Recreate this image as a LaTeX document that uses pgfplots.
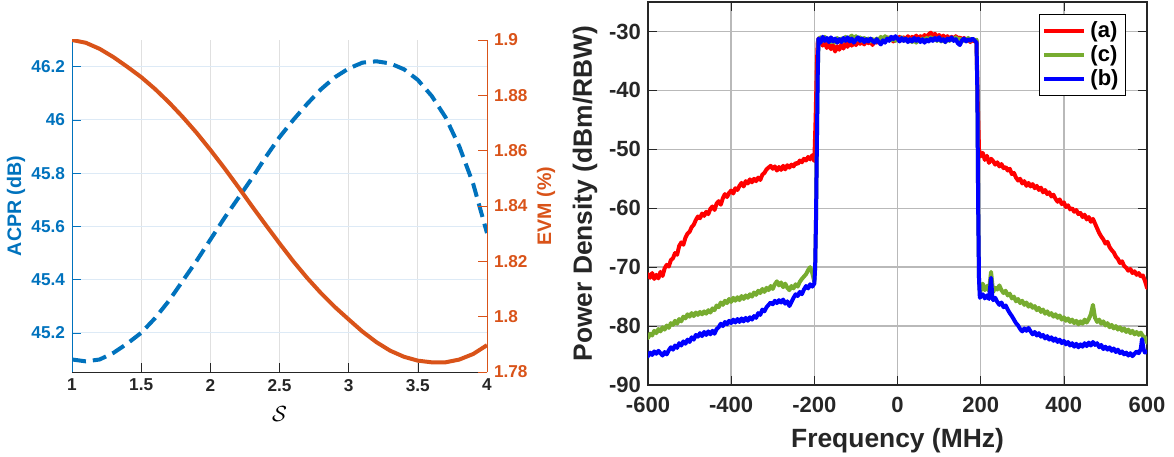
\documentclass[border=0pt]{standalone}
\usepackage{fontspec}
\setmainfont{Liberation Sans}
\usepackage{pgfplots}
\pgfplotsset{compat=1.18}
\definecolor{mblue}{HTML}{0072BD}
\definecolor{morange}{HTML}{D95319}
\definecolor{mgreen}{HTML}{77AC30}
\definecolor{axgray}{HTML}{262626}
\definecolor{gridgray}{HTML}{E0E0E0}
\definecolor{gridblue}{HTML}{DDEAF6}
\begin{document}
\begin{tikzpicture}
\useasboundingbox (0,0) rectangle (587pt,228pt);
%---------------- left: ACPR ----------------
\begin{axis}[
  at={(36pt,42pt)}, anchor=south west,
  scale only axis, width=207.5pt, height=166pt,
  xmin=1, xmax=4, ymin=45.053, ymax=46.3,
  axis y line*=left, axis x line*=bottom,
  xtick={1,1.5,2,2.5,3,3.5,4},
  ytick={45.2,45.4,45.6,45.8,46,46.2},
  tick align=inside,
  /pgf/number format/assume math mode=true,
  tick label style={font=\fontsize{8.6}{10}\selectfont\bfseries},
  xticklabel style={color=axgray},
  yticklabel style={color=mblue},
  x axis line style={axgray, line width=0.5pt},
  y axis line style={mblue, line width=0.5pt},
  xtick style={axgray}, ytick style={mblue},
  xmajorgrids, ymajorgrids,
  major x grid style={gridgray, line width=0.5pt},
  major y grid style={gridblue, line width=0.5pt},
  xlabel={$\mathcal{S}$},
  xlabel style={at={(axis description cs:0.5,-0.128)}, anchor=center, font=\fontsize{11}{12}\selectfont},
  ylabel={ACPR (dB)},
  ylabel style={at={(axis description cs:-0.135,0.5)}, anchor=center, color=mblue, font=\fontsize{9.8}{11}\selectfont\bfseries},
]
\addplot[mblue, line width=2pt, line join=round, dash pattern=on 7pt off 3.5pt] coordinates {
(1.0,45.100) (1.1,45.093) (1.2,45.100) (1.3,45.125) (1.4,45.160) (1.5,45.200)
(1.6,45.255) (1.7,45.320) (1.8,45.395) (1.9,45.470) (2.0,45.550) (2.1,45.630)
(2.2,45.705) (2.3,45.780) (2.4,45.860) (2.5,45.935) (2.6,46.000) (2.7,46.060)
(2.8,46.115) (2.9,46.160) (3.0,46.193) (3.1,46.215) (3.2,46.220) (3.3,46.212)
(3.4,46.190) (3.5,46.150) (3.6,46.090) (3.7,46.010) (3.8,45.900) (3.9,45.760)
(4.0,45.575)
};
\end{axis}
%---------------- left: EVM ----------------
\begin{axis}[
  at={(36pt,42pt)}, anchor=south west,
  scale only axis, width=207.5pt, height=166pt,
  xmin=1, xmax=4, ymin=1.78, ymax=1.9,
  axis y line*=right, axis x line=none,
  ytick={1.78,1.8,1.82,1.84,1.86,1.88,1.9},
  tick align=inside,
  /pgf/number format/assume math mode=true,
  tick label style={font=\fontsize{8.6}{10}\selectfont\bfseries},
  yticklabel style={color=morange},
  y axis line style={morange, line width=0.5pt},
  ytick style={morange},
  ylabel={EVM (\%)},
  ylabel style={at={(axis description cs:1.142,0.5)}, anchor=center, rotate=0, color=morange, font=\fontsize{9.8}{11}\selectfont\bfseries},
]
\addplot[morange, line width=2pt, line join=round] coordinates {
(1.0,1.9000) (1.1,1.8990) (1.2,1.8968) (1.3,1.8938) (1.4,1.8903) (1.5,1.8866)
(1.6,1.8823) (1.7,1.8775) (1.8,1.8722) (1.9,1.8665) (2.0,1.8603) (2.1,1.8538)
(2.2,1.8470) (2.3,1.8400) (2.4,1.8332) (2.5,1.8265) (2.6,1.8200) (2.7,1.8140)
(2.8,1.8085) (2.9,1.8035) (3.0,1.7990) (3.1,1.7946) (3.2,1.7908) (3.3,1.7877)
(3.4,1.7855) (3.5,1.7841) (3.6,1.7835) (3.7,1.7835) (3.8,1.7845) (3.9,1.7865)
(4.0,1.7897)
};
\end{axis}
%---------------- right: spectrum ----------------
\begin{axis}[
  at={(324pt,35.5pt)}, anchor=south west,
  scale only axis, width=249.5pt, height=191.5pt,
  xmin=-600, xmax=600, ymin=-90, ymax=-25,
  xtick={-600,-400,-200,0,200,400,600},
  ytick={-90,-80,-70,-60,-50,-40,-30},
  tick align=inside,
  /pgf/number format/assume math mode=true,
  tick label style={font=\fontsize{11}{12}\selectfont\bfseries, color=axgray},
  xticklabel style={yshift=-2.5pt},
  axis line style={axgray, line width=0.6pt},
  tick style={axgray},
  grid=major,
  major grid style={gray!55, line width=0.7pt},
  every axis plot/.append style={line join=round, line cap=round},
  xlabel={Frequency (MHz)},
  xlabel style={at={(axis description cs:0.5,-0.146)}, anchor=center, color=axgray, font=\fontsize{13.2}{14}\selectfont\bfseries},
  ylabel={Power Density (dBm/RBW)},
  ylabel style={at={(axis description cs:-0.126,0.5)}, anchor=center, color=axgray, font=\fontsize{13.2}{14}\selectfont\bfseries},
  legend style={at={(axis description cs:0.958,0.969)}, anchor=north east, draw=black, line width=0.5pt,
    font=\fontsize{11}{12}\selectfont\bfseries, row sep=-1.5pt, inner sep=1.5pt},
  legend cell align=left,
  legend image code/.code={\draw[#1, line cap=butt] (0pt,0pt) -- (20pt,0pt);},
]
% (a) red
\addplot[red, line width=2pt] table {
-600 -71.2
-595 -71.8
-590 -71.0
-585 -72.0
-580 -71.3
-575 -71.9
-570 -70.8
-565 -71.5
-560 -70.2
-555 -69.6
-550 -69.9
-545 -68.8
-540 -68.5
-535 -67.6
-530 -67.9
-525 -66.4
-520 -65.8
-515 -66.2
-510 -65.0
-505 -64.3
-500 -64.0
-495 -63.2
-490 -62.8
-485 -62.0
-480 -61.4
-475 -61.7
-470 -60.9
-465 -61.3
-460 -60.6
-455 -61.0
-450 -60.1
-445 -59.7
-440 -60.3
-435 -59.2
-430 -58.8
-425 -59.4
-420 -58.3
-415 -57.6
-410 -58.1
-405 -57.4
-400 -57.0
-395 -57.5
-390 -56.6
-385 -56.9
-380 -56.2
-375 -55.7
-370 -56.3
-365 -55.4
-360 -55.8
-355 -55.1
-350 -55.6
-345 -55.0
-340 -55.4
-335 -54.8
-330 -55.2
-325 -54.3
-320 -54.0
-315 -53.4
-310 -53.1
-305 -52.8
-300 -53.3
-295 -52.9
-290 -53.6
-285 -53.0
-280 -53.5
-275 -52.8
-270 -53.4
-265 -52.7
-260 -53.1
-255 -52.6
-250 -52.9
-245 -52.3
-240 -52.5
-235 -51.9
-230 -52.2
-225 -51.6
-220 -51.9
-215 -51.3
-210 -51.7
-205 -51.0
-200 -52.0
-197 -45.0
-194 -36.0
-192 -32.0
-190 -31.2
-185 -31.9
-180 -32.4
-175 -31.7
-170 -32.8
-165 -32.1
-160 -33.0
-155 -32.3
-150 -33.4
-145 -32.5
-140 -33.1
-135 -32.2
-130 -32.9
-125 -32.0
-120 -32.6
-115 -31.8
-110 -32.4
-105 -31.9
-100 -32.3
-95 -31.6
-90 -32.1
-85 -31.7
-80 -32.2
-75 -31.5
-70 -32.0
-65 -31.6
-60 -32.3
-55 -31.4
-50 -31.9
-45 -31.3
-40 -31.8
-35 -31.2
-30 -31.6
-25 -31.0
-20 -31.5
-15 -31.1
-10 -31.7
-5 -31.2
0 -31.4
5 -30.9
10 -31.5
15 -31.0
20 -31.3
25 -30.8
30 -31.4
35 -30.9
40 -31.2
45 -30.7
50 -31.3
55 -30.8
60 -31.1
65 -30.6
70 -31.0
75 -30.5
80 -30.2
85 -30.8
90 -30.4
95 -31.0
100 -30.6
105 -31.1
110 -30.7
115 -31.2
120 -30.8
125 -31.3
130 -30.9
135 -31.4
140 -30.8
145 -31.2
150 -31.0
155 -31.5
160 -31.1
165 -31.6
170 -31.2
175 -31.8
180 -31.3
185 -31.7
190 -31.6
193 -42.0
196 -50.0
200 -51.2
205 -50.6
210 -51.8
215 -51.1
220 -52.3
225 -51.6
230 -52.0
235 -52.6
240 -52.2
245 -52.9
250 -52.5
255 -53.2
260 -53.0
265 -53.6
270 -53.3
275 -54.2
280 -54.0
285 -54.8
290 -55.3
295 -55.0
300 -55.8
305 -55.4
310 -56.2
315 -55.7
320 -56.3
325 -55.9
330 -56.6
335 -56.2
340 -56.9
345 -56.5
350 -57.3
355 -56.9
360 -57.6
365 -57.3
370 -58.0
375 -57.7
380 -58.4
385 -58.9
390 -58.5
395 -59.3
400 -59.0
405 -59.8
410 -59.5
415 -60.2
420 -60.0
425 -60.6
430 -60.3
435 -61.0
440 -60.8
445 -61.5
450 -61.1
455 -61.9
460 -61.5
465 -62.3
470 -61.8
475 -62.6
480 -63.4
485 -64.2
490 -64.8
495 -65.3
500 -66.0
505 -65.7
510 -66.6
515 -67.1
520 -67.5
525 -68.2
530 -68.6
535 -69.3
540 -69.0
545 -69.8
550 -70.1
555 -70.6
560 -70.3
565 -71.0
570 -70.7
575 -71.3
580 -71.0
585 -71.6
590 -71.4
595 -72.3
600 -73.5
};
\addlegendentry{(a)}
% (c) green
\addplot[mgreen, line width=2pt] table {
-600 -82.0
-595 -81.3
-590 -81.6
-585 -80.8
-580 -81.2
-575 -80.5
-570 -80.9
-565 -80.2
-560 -80.6
-555 -79.9
-550 -80.3
-545 -79.5
-540 -79.8
-535 -79.1
-530 -79.6
-525 -78.8
-520 -79.2
-515 -78.4
-510 -78.7
-505 -78.0
-500 -78.4
-495 -77.8
-490 -78.3
-485 -77.7
-480 -78.1
-475 -77.6
-470 -78.0
-465 -77.5
-460 -77.9
-455 -77.3
-450 -77.7
-445 -77.0
-440 -77.3
-435 -76.5
-430 -76.8
-425 -76.0
-420 -76.4
-415 -75.7
-410 -76.1
-405 -75.4
-400 -75.9
-395 -75.2
-390 -75.7
-385 -75.1
-380 -75.6
-375 -74.9
-370 -75.4
-365 -74.8
-360 -75.2
-355 -74.6
-350 -75.0
-345 -74.3
-340 -74.7
-335 -74.0
-330 -74.4
-325 -73.7
-320 -74.2
-315 -73.5
-310 -73.9
-305 -73.2
-300 -73.7
-295 -72.9
-290 -72.4
-285 -73.1
-280 -72.6
-275 -73.4
-270 -72.8
-265 -73.5
-260 -73.9
-255 -73.2
-250 -73.6
-245 -72.9
-240 -73.3
-235 -72.5
-230 -72.0
-225 -71.6
-220 -71.2
-215 -70.5
-210 -70.0
-205 -71.0
-200 -72.5
-198 -70.0
-196 -62.0
-194 -50.0
-192 -38.0
-190 -31.4
-185 -31.0
-180 -31.6
-175 -30.9
-170 -31.5
-165 -31.2
-160 -31.8
-155 -31.3
-150 -31.9
-145 -31.1
-140 -31.7
-135 -31.2
-130 -31.6
-125 -30.9
-120 -31.4
-115 -31.0
-110 -30.7
-105 -31.3
-100 -30.8
-95 -31.4
-90 -31.0
-85 -31.6
-80 -31.1
-75 -31.5
-70 -31.2
-65 -31.7
-60 -31.3
-55 -31.8
-50 -31.2
-45 -31.5
-40 -30.9
-35 -31.4
-30 -30.8
-25 -31.3
-20 -31.0
-15 -31.5
-10 -31.1
-5 -31.6
0 -31.2
5 -31.5
10 -31.0
15 -31.6
20 -31.2
25 -31.7
30 -31.3
35 -31.8
40 -31.4
45 -31.9
50 -31.3
55 -31.7
60 -31.2
65 -31.6
70 -31.1
75 -31.5
80 -31.0
85 -31.4
90 -31.1
95 -31.6
100 -31.2
105 -31.7
110 -31.3
115 -31.8
120 -31.2
125 -31.6
130 -31.1
135 -31.5
140 -31.0
145 -31.4
150 -31.2
155 -31.7
160 -31.3
165 -31.5
170 -31.1
175 -31.6
180 -31.2
185 -31.5
190 -31.4
192 -40.0
194 -60.0
196 -72.0
198 -74.2
200 -74.0
205 -72.8
210 -73.9
215 -73.2
220 -74.0
225 -70.8
230 -74.2
235 -73.5
240 -73.8
245 -73.1
250 -73.9
255 -74.4
260 -74.0
265 -74.8
270 -74.5
275 -75.3
280 -75.0
285 -75.8
290 -75.4
295 -76.1
300 -75.7
305 -76.4
310 -76.0
315 -76.7
320 -76.3
325 -76.9
330 -76.6
335 -77.3
340 -76.9
345 -77.6
350 -77.2
355 -77.9
360 -77.5
365 -78.1
370 -77.8
375 -78.4
380 -78.0
385 -78.6
390 -78.2
395 -78.9
400 -78.5
405 -79.1
410 -78.7
415 -79.3
420 -78.9
425 -79.5
430 -79.1
435 -79.7
440 -79.2
445 -79.6
450 -78.9
455 -79.4
460 -78.8
465 -78.0
470 -76.4
475 -78.6
480 -79.3
485 -78.9
490 -79.6
495 -79.2
500 -79.9
505 -79.5
510 -80.2
515 -79.8
520 -80.4
525 -80.0
530 -80.6
535 -80.2
540 -80.8
545 -80.4
550 -81.0
555 -80.6
560 -81.2
565 -80.8
570 -81.4
575 -81.0
580 -81.5
585 -81.1
590 -81.7
595 -81.9
600 -82.8
};
\addlegendentry{(c)}
% (b) blue
\addplot[blue, line width=2pt] table {
-600 -85.1
-595 -84.5
-590 -84.9
-585 -84.3
-580 -84.7
-575 -84.2
-570 -84.6
-565 -85.0
-560 -84.4
-555 -84.8
-550 -84.1
-545 -83.6
-540 -84.0
-535 -83.3
-530 -83.7
-525 -82.9
-520 -83.3
-515 -82.6
-510 -83.0
-505 -82.3
-500 -82.7
-495 -81.9
-490 -82.3
-485 -81.5
-480 -81.8
-475 -81.2
-470 -81.7
-465 -81.0
-460 -81.5
-455 -80.9
-450 -81.4
-445 -80.8
-440 -81.3
-435 -80.5
-430 -80.2
-425 -79.6
-420 -80.0
-415 -79.3
-410 -79.7
-405 -79.1
-400 -79.5
-395 -78.9
-390 -79.4
-385 -78.8
-380 -79.3
-375 -78.7
-370 -79.2
-365 -78.6
-360 -79.1
-355 -78.5
-350 -78.9
-345 -78.3
-340 -78.6
-335 -77.8
-330 -78.1
-325 -77.2
-320 -77.5
-315 -76.8
-310 -76.4
-305 -76.0
-300 -76.3
-295 -75.7
-290 -76.1
-285 -75.6
-280 -76.0
-275 -75.5
-270 -76.2
-265 -75.8
-260 -76.6
-255 -75.9
-250 -75.2
-245 -74.6
-240 -74.9
-235 -74.2
-230 -74.6
-225 -73.8
-220 -73.2
-215 -73.6
-210 -72.9
-205 -73.3
-200 -72.8
-198 -70.0
-196 -62.0
-194 -50.0
-192 -38.0
-190 -31.2
-185 -31.9
-180 -30.9
-175 -31.6
-170 -31.1
-165 -31.8
-160 -31.0
-155 -31.7
-150 -31.2
-145 -31.9
-140 -31.3
-135 -31.8
-130 -31.1
-125 -31.6
-120 -31.0
-115 -31.7
-110 -31.2
-105 -31.9
-100 -31.4
-95 -31.0
-90 -31.6
-85 -31.2
-80 -31.8
-75 -31.3
-70 -31.7
-65 -31.2
-60 -31.6
-55 -31.9
-50 -31.3
-45 -31.8
-40 -32.2
-35 -31.5
-30 -31.9
-25 -31.2
-20 -31.6
-15 -30.9
-10 -31.3
-5 -30.8
0 -31.2
5 -31.7
10 -31.1
15 -31.6
20 -31.2
25 -31.8
30 -31.3
35 -31.7
40 -31.1
45 -31.6
50 -31.2
55 -31.8
60 -31.3
65 -31.9
70 -31.4
75 -31.7
80 -31.2
85 -31.6
90 -31.1
95 -31.5
100 -31.0
105 -31.6
110 -31.3
115 -31.8
120 -31.2
125 -31.5
130 -31.0
135 -31.6
140 -31.3
145 -32.0
150 -32.3
155 -31.5
160 -31.2
165 -31.7
170 -31.3
175 -31.6
180 -31.2
185 -31.5
190 -31.9
192 -40.0
194 -60.0
196 -72.0
198 -75.2
200 -75.0
205 -74.6
210 -75.3
215 -74.8
220 -75.4
225 -71.8
228 -75.0
230 -75.6
235 -75.2
240 -75.9
245 -76.4
250 -76.0
255 -76.8
260 -76.5
265 -77.2
270 -77.8
275 -78.3
280 -78.9
285 -79.5
290 -79.9
295 -80.5
300 -80.9
305 -80.4
310 -80.8
315 -80.3
320 -80.9
325 -81.4
330 -81.0
335 -81.6
340 -81.2
345 -81.8
350 -81.5
355 -82.1
360 -81.7
365 -82.3
370 -81.9
375 -82.5
380 -82.1
385 -82.7
390 -82.3
395 -82.9
400 -82.5
405 -83.1
410 -82.7
415 -83.3
420 -82.9
425 -83.5
430 -83.0
435 -83.6
440 -83.1
445 -83.5
450 -82.9
455 -83.4
460 -82.8
465 -83.3
470 -82.7
475 -83.2
480 -82.9
485 -83.6
490 -83.2
495 -83.9
500 -83.5
505 -84.0
510 -83.6
515 -84.2
520 -83.8
525 -84.4
530 -84.0
535 -84.6
540 -84.3
545 -84.8
550 -84.5
555 -85.0
560 -84.6
565 -85.1
570 -84.7
575 -84.3
580 -84.6
585 -83.9
588 -82.2
592 -84.0
595 -84.5
600 -84.3
};
\addlegendentry{(b)}
\end{axis}
\end{tikzpicture}
\end{document}
